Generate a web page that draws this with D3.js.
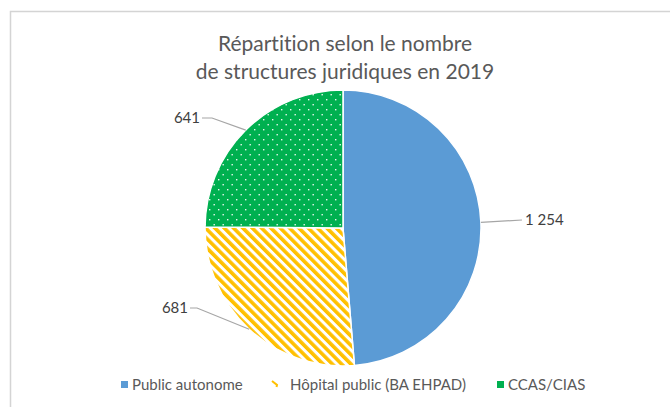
<!DOCTYPE html>
<html>
<head>
<meta charset="utf-8">
<script src="https://cdn.jsdelivr.net/npm/d3@7"></script>
<style>
  body { margin: 0; background: #fff; }
  svg { display: block; font-family: Lato, "Open Sans", sans-serif; font-variant-ligatures: none; }
</style>
</head>
<body>
<div id="chart"></div>
<script>
const categories = ["Public autonome", "Hôpital public (BA EHPAD)", "CCAS/CIAS"];
const values = [1254, 681, 641];
const valueLabels = ["1 254", "681", "641"];
const titleLines = ["Répartition selon le nombre", "de structures juridiques en 2019"];

const width = 670, height = 407;
const cx = 343, cy = 228, radius = 138;

const svg = d3.select("#chart")
  .append("svg")
    .attr("width", width)
    .attr("height", height);

// patterns
const defs = svg.append("defs");
defs.append("pattern")
    .attr("id", "stripes")
    .attr("patternUnits", "userSpaceOnUse")
    .attr("width", 6.6)
    .attr("height", 6.6)
    .attr("patternTransform", "rotate(-45)")
  .call(p => {
    p.append("rect").attr("width", 6.6).attr("height", 6.6).attr("fill", "#fff");
    p.append("rect").attr("width", 3.6).attr("height", 6.6).attr("fill", "#FFC000");
  });

defs.append("pattern")
    .attr("id", "dots")
    .attr("patternUnits", "userSpaceOnUse")
    .attr("width", 9)
    .attr("height", 10)
  .call(p => {
    p.append("rect").attr("width", 9).attr("height", 10).attr("fill", "#00B050");
    p.append("rect").attr("x", 1).attr("y", 1).attr("width", 1.4).attr("height", 1.4).attr("fill", "#e8f8ee");
    p.append("rect").attr("x", 5.5).attr("y", 6).attr("width", 1.4).attr("height", 1.4).attr("fill", "#e8f8ee");
  });

const fills = ["#5B9BD5", "url(#stripes)", "url(#dots)"];

// frame
svg.append("path")
  .attr("d", `M10.5,${height} V11.5 H${width}`)
  .attr("fill", "none")
  .attr("stroke", "#d4d4d4")
  .attr("stroke-width", 1.5);

// title
svg.append("g")
    .attr("class", "title")
  .selectAll("text")
  .data(titleLines)
  .join("text")
    .attr("x", 345)
    .attr("y", (d, i) => 51 + i * 28)
    .attr("text-anchor", "middle")
    .attr("font-size", 21)
    .attr("fill", "#595959")
    .text(d => d);

// pie
const pie = d3.pie().sort(null).value(d => d);
const arcs = pie(values);
const arc = d3.arc().innerRadius(0).outerRadius(radius);

const g = svg.append("g").attr("transform", `translate(${cx},${cy})`);

g.selectAll("path.slice")
  .data(arcs)
  .join("path")
    .attr("class", "slice")
    .attr("d", arc)
    .attr("fill", (d, i) => fills[i])
    .attr("stroke", "#fff")
    .attr("stroke-width", 1.5);

// leader lines + labels
const labelAnchors = [
  { x: 179, y: -8, elbow: 0, anchor: "start" },
  { x: -146, y: 80, elbow: 7, anchor: "end" },
  { x: -131, y: -110, elbow: 10, anchor: "end" }
];

arcs.forEach((a, i) => {
  const mid = (a.startAngle + a.endAngle) / 2;
  const p0 = [radius * Math.sin(mid), -radius * Math.cos(mid)];
  const la = labelAnchors[i];
  const pts = la.anchor === "start"
    ? [p0, [la.x, la.y]]
    : [p0, [la.x, la.y], [la.x - la.elbow, la.y]];
  g.append("path")
    .attr("d", d3.line()(pts))
    .attr("fill", "none")
    .attr("stroke", "#a6a6a6")
    .attr("stroke-width", 1.2);
  const end = pts[pts.length - 1];
  g.append("text")
    .attr("x", end[0] + (la.anchor === "start" ? 3 : -2))
    .attr("y", end[1])
    .attr("dy", "0.35em")
    .attr("text-anchor", la.anchor)
    .attr("font-size", 15)
    .attr("fill", "#404040")
    .text(valueLabels[i]);
});

// legend
const legendX = [121, 272, 497];
const legend = svg.append("g").attr("class", "legend");
categories.forEach((c, i) => {
  const lg = legend.append("g").attr("transform", `translate(${legendX[i]},385)`);
  if (i === 1) {
    lg.append("path")
      .attr("d", "M0,-4 L5,0 L4.5,2")
      .attr("fill", "none")
      .attr("stroke", "#FFC000")
      .attr("stroke-width", 2);
  } else {
    lg.append("rect")
      .attr("x", 0).attr("y", -4)
      .attr("width", 7).attr("height", 7)
      .attr("fill", i === 0 ? "#5B9BD5" : "#00B050");
  }
  lg.append("text")
    .attr("x", i === 1 ? 18 : 11)
    .attr("y", 0)
    .attr("dy", "0.35em")
    .attr("font-size", 15)
    .attr("fill", "#595959")
    .text(c);
});
</script>
</body>
</html>
